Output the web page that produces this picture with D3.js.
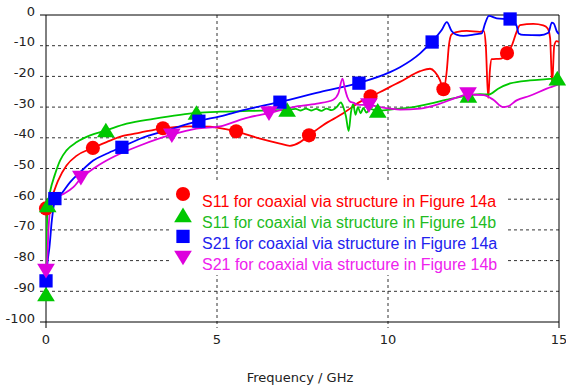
<!DOCTYPE html>
<html>
<head>
<meta charset="utf-8">
<script src="https://cdnjs.cloudflare.com/ajax/libs/d3/7.8.5/d3.min.js"></script>
<style>
  body { margin: 0; background: #fff; }
  svg { display: block; }
</style>
</head>
<body>
<div id="chart"></div>
<script>
// ---- data ----
var s11aCurve = [[0,-66],[0.03,-64],[0.08,-62],[0.17,-59.4],[0.35,-54],[0.6,-49],[0.9,-45.8],[1.34,-43.4],[1.77,-41.4],[2.25,-39.4],[2.75,-38.3],[3.42,-36.9],[4.2,-36.3],[4.8,-36.4],[5.0,-36.7],[5.56,-37.9],[6.26,-40.3],[6.84,-41.9],[7.13,-42.6],[7.43,-41.4],[7.68,-39.3],[8.1,-35.9],[8.68,-32.1],[9.18,-28.3],[9.49,-26.5],[9.77,-25.1],[10.06,-23.4],[10.35,-21.8],[10.94,-18.3],[11.23,-17.5],[11.37,-18.5],[11.52,-21.2],[11.62,-24.3],[11.72,-18],[11.78,-10],[11.86,-6.3],[12.0,-5.6],[12.3,-5.2],[12.69,-5.5],[12.8,-5.2],[12.86,-10],[12.93,-27],[12.98,-18],[13.03,-14.4],[13.3,-14.2],[13.47,-12.5],[13.62,-10],[13.76,-5.5],[13.86,-3.3],[14.25,-2.9],[14.54,-3.4],[14.67,-4.4],[14.74,-7.5],[14.8,-22.5],[14.86,-10],[14.93,-8.5],[15,-8.8]];
var s11aMarks = [[0,-63],[1.37,-43.3],[3.42,-36.9],[5.56,-37.9],[7.69,-39.2],[9.49,-26.5],[11.62,-24.2],[13.48,-12.4]];

var s11bCurve = [[0,-91],[0.01,-80],[0.03,-68],[0.05,-62],[0.12,-57.5],[0.26,-52],[0.41,-47.4],[0.6,-44.1],[0.9,-41.4],[1.29,-39.2],[1.75,-37.6],[2.36,-35.4],[3.14,-33.8],[3.92,-32.5],[4.4,-31.9],[5.09,-31.5],[5.77,-31.3],[6.75,-31],[7.05,-30.9],[7.3,-30.6],[7.45,-31.1],[7.6,-30.5],[7.75,-31.1],[7.9,-30.6],[8.05,-31.2],[8.2,-30.5],[8.35,-31],[8.5,-30],[8.62,-28.5],[8.7,-30.2],[8.77,-33],[8.85,-37.8],[8.92,-31.5],[8.98,-29],[9.05,-32.5],[9.12,-30],[9.2,-32],[9.28,-30.3],[9.37,-31.8],[9.47,-30.6],[9.7,-31.2],[10.06,-30.8],[10.35,-30.5],[10.74,-30],[11.23,-28.9],[11.72,-27.6],[12.2,-26.5],[12.69,-25.8],[12.95,-25.9],[13.22,-24],[13.57,-22.3],[14.15,-21.3],[14.64,-20.9],[15,-20.6]];
var s11bMarks = [[0,-91],[0.05,-62],[1.75,-37.6],[4.4,-31.9],[7.05,-30.9],[9.7,-31.2],[12.35,-26.3],[14.95,-20.7]];

var s21aCurve = [[0,-87],[0.05,-80],[0.1,-75.7],[0.17,-67],[0.26,-60.5],[0.41,-58.8],[0.7,-54.5],[1.0,-51.2],[1.38,-47.4],[1.77,-45.2],[2.21,-43],[2.75,-40.3],[3.53,-37.6],[4.48,-34.5],[5.09,-33],[5.77,-31],[6.84,-28.3],[8.01,-25.1],[9.16,-22.1],[10.06,-18.6],[10.35,-17],[10.94,-12.5],[11.28,-8.7],[11.57,-4.9],[11.72,-2.3],[11.86,-5.2],[12.0,-6.4],[12.2,-6.8],[12.6,-6.2],[12.74,-6],[12.84,-2.7],[12.95,-0.3],[13.18,-1.1],[13.57,-1.4],[13.76,-3.5],[13.82,-6],[13.96,-6.5],[14.44,-6.6],[14.69,-5.8],[14.79,-2.5],[14.85,-2.8],[14.93,-5.2],[15,-6.2]];
var s21aMarks = [[0,-86.6],[0.26,-59.8],[2.22,-43.1],[4.47,-34.6],[6.84,-28.4],[9.15,-22.2],[11.29,-8.8],[13.57,-1.3]];

var s21bCurve = [[0,-84],[0.04,-79],[0.07,-70.3],[0.14,-62.6],[0.31,-59.4],[0.51,-58.3],[0.8,-56.1],[1.0,-53.5],[1.38,-50.1],[1.77,-47.4],[2.26,-44.7],[2.75,-42.5],[3.67,-39],[4.4,-37],[5.09,-36.3],[5.77,-33.8],[6.53,-31.9],[7.23,-30],[7.92,-28.9],[8.4,-27.6],[8.55,-25.5],[8.67,-20.7],[8.74,-24],[8.81,-26.7],[8.9,-28.3],[9.0,-28.6],[9.1,-29.2],[9.45,-29.4],[10.06,-30.5],[10.35,-30.8],[10.94,-30.5],[11.52,-28.9],[12.0,-26.9],[12.35,-25.9],[12.79,-26.1],[13.08,-27.6],[13.37,-30],[13.5,-29.8],[13.76,-27.8],[14.15,-26.3],[14.64,-24],[15,-22.6]];
var s21bMarks = [[0,-83.3],[1.02,-53],[3.68,-39.2],[6.52,-32],[9.44,-29.4],[12.34,-25.8]];

var seriesNames = ["S11 for coaxial via structure in Figure 14a", "S11 for coaxial via structure in Figure 14b",
                   "S21 for coaxial via structure in Figure 14a", "S21 for coaxial via structure in Figure 14b"];
var xTicks = [0, 5, 10, 15];
var yTicks = [0, -10, -20, -30, -40, -50, -60, -70, -80, -90, -100];

var series = [
  {name: seriesNames[0], curve: s11aCurve, marks: s11aMarks, color: "#ff0000", textColor: "#ff0000", symbol: "circle"},
  {name: seriesNames[1], curve: s11bCurve, marks: s11bMarks, color: "#00c800", textColor: "#22bb22", symbol: "up"},
  {name: seriesNames[2], curve: s21aCurve, marks: s21aMarks, color: "#0000ff", textColor: "#2222ee", symbol: "square"},
  {name: seriesNames[3], curve: s21bCurve, marks: s21bMarks, color: "#dd00dd", textColor: "#ee22ee", symbol: "down"}
];

// ---- layout ----
var width = 566, height = 389;
var margin = {left: 46, right: 7, top: 15, bottom: 67};

var svg = d3.select("#chart").append("svg")
  .attr("width", width)
  .attr("height", height);

var x = d3.scaleLinear().domain([0, 15]).range([margin.left, width - margin.right]);
var y = d3.scaleLinear().domain([-100, 0]).range([height - margin.bottom, margin.top]);

var font = "'DejaVu Sans', Verdana, sans-serif";

//grid lines
var grid = svg.append("g");
grid.selectAll("line.hgrid")
  .data(yTicks.filter(function(d) { return d > -100 && d < 0; }))
  .enter().append("line")
  .attr("x1", x(0) - 6).attr("x2", x(15))
  .attr("y1", function(d) { return y(d); }).attr("y2", function(d) { return y(d); })
  .attr("stroke", "#333").attr("stroke-dasharray", "3,3");

grid.selectAll("line.vgrid")
  .data(xTicks.filter(function(d) { return d > 0 && d < 15; }))
  .enter().append("line")
  .attr("x1", function(d) { return x(d); }).attr("x2", function(d) { return x(d); })
  .attr("y1", y(0)).attr("y2", y(-100) + 6)
  .attr("stroke", "#333").attr("stroke-dasharray", "3,3");

//frame and axes
svg.append("line").attr("x1", x(0) - 6).attr("x2", x(15)).attr("y1", y(0)).attr("y2", y(0)).attr("stroke", "#000");
svg.append("line").attr("x1", x(0) - 6).attr("x2", x(15)).attr("y1", y(-100)).attr("y2", y(-100)).attr("stroke", "#000");
svg.append("line").attr("x1", x(0)).attr("x2", x(0)).attr("y1", y(0)).attr("y2", y(-100) + 6).attr("stroke", "#000");
svg.append("line").attr("x1", x(15)).attr("x2", x(15)).attr("y1", y(0)).attr("y2", y(-100) + 6).attr("stroke", "#000");

//tick labels
svg.append("g").selectAll("text")
  .data(yTicks).enter().append("text")
  .attr("x", x(0) - 11)
  .attr("y", function(d) { return y(d) - 4; })
  .attr("dy", "0.35em")
  .attr("text-anchor", "end")
  .style("font-family", font).style("font-size", "13px").attr("fill", "#222")
  .text(function(d) { return d; });

svg.append("g").selectAll("text")
  .data(xTicks).enter().append("text")
  .attr("x", function(d) { return x(d); })
  .attr("y", y(-100) + 17)
  .attr("dy", "0.35em")
  .attr("text-anchor", "middle")
  .style("font-family", font).style("font-size", "13px").attr("fill", "#222")
  .text(function(d) { return d; });

svg.append("text")
  .attr("x", 300).attr("y", 377).attr("dy", "0.35em")
  .attr("text-anchor", "middle")
  .style("font-family", font).style("font-size", "13px").attr("fill", "#222")
  .text("Frequency / GHz");

//curves
svg.append("clipPath").attr("id", "plotclip").append("rect")
  .attr("x", x(0)).attr("y", y(0) - 2).attr("width", x(15) - x(0)).attr("height", y(-100) - y(0) + 2);

var line = d3.line()
  .x(function(d) { return x(d[0]); })
  .y(function(d) { return y(d[1]); })
  .curve(d3.curveMonotoneX);

var plot = svg.append("g").attr("clip-path", "url(#plotclip)");
plot.selectAll("path.curve")
  .data(series).enter().append("path")
  .attr("class", "curve")
  .attr("d", function(d) { return line(d.curve); })
  .attr("fill", "none")
  .attr("stroke", function(d) { return d.color; })
  .attr("stroke-width", 1.8);

var symbolPath = function(type, size) {
  var s = size;
  if (type == "circle") return d3.symbol().type(d3.symbolCircle).size(s * s * 0.8)();
  if (type == "square") return d3.symbol().type(d3.symbolSquare).size(s * s * 0.9)();
  var h = s * 0.55;
  if (type == "up") return "M0," + (-h) + "L" + (h * 1.15) + "," + (h * 0.9) + "L" + (-h * 1.15) + "," + (h * 0.9) + "Z";
  return "M0," + h + "L" + (h * 1.15) + "," + (-h * 0.9) + "L" + (-h * 1.15) + "," + (-h * 0.9) + "Z";
};

//markers
series.forEach(function(s) {
  svg.append("g").selectAll("path")
    .data(s.marks).enter().append("path")
    .attr("transform", function(d) { return "translate(" + x(d[0]) + "," + y(d[1]) + ")"; })
    .attr("d", symbolPath(s.symbol, 14))
    .attr("fill", s.color);
});

//legend with white background
var legend = svg.append("g");
legend.append("rect")
  .attr("x", 170).attr("y", 180).attr("width", 335).attr("height", 95)
  .attr("fill", "#fff");

var rows = legend.selectAll("g.row").data(series).enter().append("g")
  .attr("transform", function(d, i) { return "translate(183," + (194 + i * 21.2) + ")"; });

rows.append("path")
  .attr("d", function(d) { return symbolPath(d.symbol, 14); })
  .attr("fill", function(d) { return d.color; });

rows.append("text")
  .attr("x", 19).attr("y", 7).attr("dy", "0.35em")
  .style("font-family", "'Liberation Sans', Arial, sans-serif").style("font-size", "16px")
  .attr("fill", function(d) { return d.textColor; })
  .text(function(d) { return d.name; });
</script>
</body>
</html>
